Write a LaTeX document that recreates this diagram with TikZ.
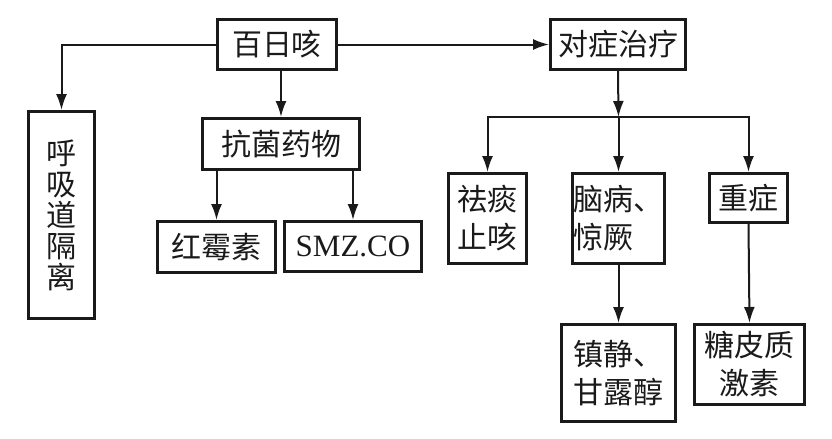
\documentclass[tikz,border=0pt]{standalone}
\usepackage{fontspec}
\setmainfont{Liberation Serif}
\newfontfamily\cjk{Noto Sans CJK SC}
\usetikzlibrary{arrows.meta}
\definecolor{pwInk}{HTML}{1A1A1A}
\tikzset{
  pw box/.style={draw=pwInk, line width=1.5pt, inner sep=0pt, text=pwInk, align=center, font=\cjk\fontsize{15}{19}\selectfont},
  pw latin/.style={font=\fontsize{15.5}{19}\selectfont},
  pw column/.style={font=\cjk\fontsize{15}{15.5}\selectfont},
  pw link/.style={draw=pwInk, line width=1pt, -{Latex[length=8pt,width=5.5pt]}},
}

\begin{document}
\begin{tikzpicture}[x=0.5pt,y=-0.5pt]
  \useasboundingbox (0,0) rectangle (832,439);
  % left branch
  \node[pw box, minimum width=59.5pt, minimum height=25pt] (cough) at (277,44.5) {百日咳};
  \node[pw box, pw column, minimum width=33pt, minimum height=103.5pt] (isolate) at (61.5,215) {呼\\吸\\道\\隔\\离};
  \node[pw box, minimum width=78.5pt, minimum height=25.5pt] (antibio) at (281,144) {抗菌药物};
  \node[pw box, minimum width=59pt, minimum height=25.5pt] (ery) at (216.5,247) {红霉素};
  \node[pw box, pw latin, minimum width=68.5pt, minimum height=25pt] (smz) at (353,246.5) {SMZ.CO};
  % right branch
  \node[pw box, minimum width=67.5pt, minimum height=25pt] (symp) at (618,44.5) {对症治疗};
  \node[pw box, minimum width=39pt, minimum height=45pt] (phlegm) at (487.5,218.5) {祛痰\\止咳};
  \node[pw box, align=left, minimum width=46pt, minimum height=45pt] (brain) at (618.5,218.5) {脑病、\\惊厥};
  \node[pw box, minimum width=39pt, minimum height=24.5pt] (severe) at (748.5,198) {重症};
  \node[pw box, align=left, minimum width=57pt, minimum height=48.5pt] (sedate) at (618.5,373) {镇静、\\甘露醇};
  \node[pw box, minimum width=55pt, minimum height=40pt] (steroid) at (749.5,364.5) {糖皮质\\激素};
  \coordinate (fork) at (618.5,117);

  \draw[pw link] (cough.west) -| (isolate.north);
  \draw[pw link] (cough.east) -- (symp.west);
  \draw[pw link] (cough.south -| antibio.north) -- (antibio.north);
  \foreach \leaf in {ery,smz}
    \draw[pw link] (antibio.south -| \leaf.north) -- (\leaf.north);
  \draw[pw link] (symp.south) -- (fork);
  \foreach \leaf in {phlegm,brain,severe}
    \draw[pw link] (fork) -| (\leaf.north);
  \draw[pw link] (brain.south) -- (sedate.north);
  \draw[pw link] (severe.south) -- (steroid.north);
\end{tikzpicture}
\end{document}
